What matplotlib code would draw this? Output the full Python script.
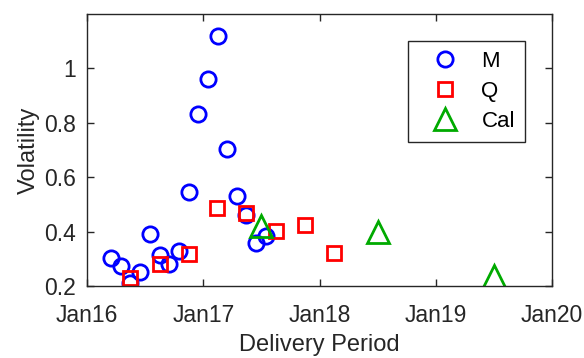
import numpy as np
import pandas as pd
import matplotlib
matplotlib.use("Agg")
import matplotlib.pyplot as plt
import matplotlib.dates as mdates

plt.rcParams['font.family'] = ['Liberation Sans', 'DejaVu Sans']

# monthly contracts (mid-month delivery)
m_dates = ["2016-03-16", "2016-04-16", "2016-05-16", "2016-06-16", "2016-07-16",
           "2016-08-16", "2016-09-16", "2016-10-16", "2016-11-16", "2016-12-16",
           "2017-01-16", "2017-02-16", "2017-03-16", "2017-04-16", "2017-05-16",
           "2017-06-16", "2017-07-16"]
m_vol = [0.302, 0.273, 0.212, 0.250, 0.391, 0.314, 0.281, 0.330, 0.546, 0.832,
         0.962, 1.118, 0.704, 0.530, 0.461, 0.359, 0.383]

# quarterly contracts
q_dates = ["2016-05-16", "2016-08-16", "2016-11-15", "2017-02-14",
           "2017-05-16", "2017-08-16", "2017-11-15", "2018-02-14"]
q_vol = [0.230, 0.281, 0.317, 0.487, 0.467, 0.402, 0.426, 0.320]

# calendar year contracts
cal_dates = ["2017-07-02", "2018-07-02", "2019-07-02"]
cal_vol = [0.419, 0.398, 0.237]

fs = 16.5
fig = plt.figure(figsize=(5.84, 3.58), dpi=100)
ax = fig.add_axes([0.149, 0.201, 0.796, 0.760])

ax.plot(pd.to_datetime(m_dates), m_vol, 'o', color='#0000ff', mfc='none',
        ms=11, mew=2, label='M')
ax.plot(pd.to_datetime(q_dates), q_vol, 's', color='#ff0000', mfc='none',
        ms=9.5, mew=2, label='Q')
ax.plot(pd.to_datetime(cal_dates), cal_vol, '^', color='#00aa00', mfc='none',
        ms=16, mew=2, label='Cal')

ax.set_xlim(pd.Timestamp("2016-01-01"), pd.Timestamp("2020-01-01"))
ax.set_ylim(0.2, 1.2)
ax.xaxis.set_major_locator(mdates.YearLocator())
ax.xaxis.set_major_formatter(mdates.DateFormatter('%b%y'))
ax.set_yticks([0.2, 0.4, 0.6, 0.8, 1.0])
ax.set_yticklabels(['0.2', '0.4', '0.6', '0.8', '1'])

ax.tick_params(direction='in', top=True, right=True, labelsize=fs,
               colors='#262626', length=5, width=1)
ax.tick_params(axis='x', pad=13)
ax.tick_params(axis='y', pad=8)
for s in ax.spines.values():
    s.set_color('#262626')
    s.set_linewidth(1)

ax.set_xlabel('Delivery Period', fontsize=17, color='#262626', labelpad=5)
ax.set_ylabel('Volatility', fontsize=17, color='#262626', labelpad=3)

leg = ax.legend(loc='upper right', bbox_to_anchor=(0.966, 0.941), fontsize=16,
                fancybox=False, edgecolor='#262626', framealpha=1,
                borderpad=0.45, labelspacing=0.4, handletextpad=0.45,
                handlelength=2.4)
leg.get_frame().set_linewidth(1)

fig.savefig('out.png', dpi=100)
